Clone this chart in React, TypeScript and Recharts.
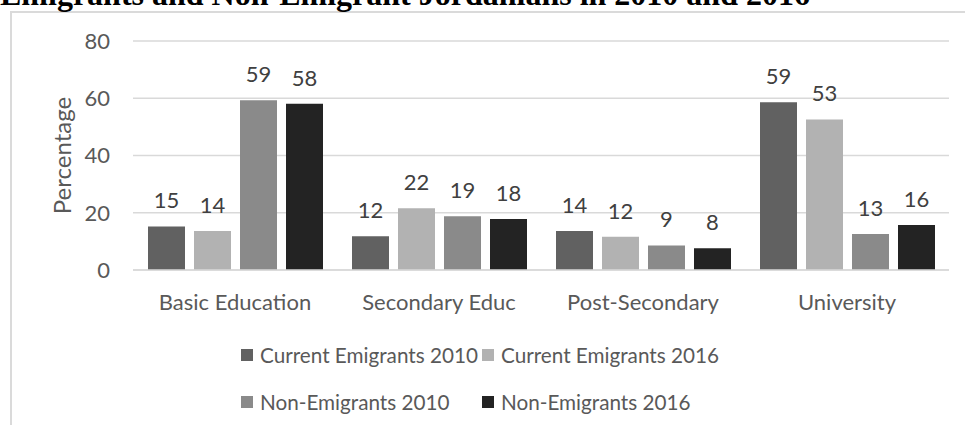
import React from "react";
import { BarChart, Bar, XAxis, YAxis, CartesianGrid, Legend, LabelList, Label } from "recharts";

const categories = ["Basic Education", "Secondary Educ", "Post-Secondary", "University"];
const currentEmigrants2010 = [15.2, 11.8, 13.6, 58.6];
const currentEmigrants2016 = [13.6, 21.6, 11.6, 52.6];
const nonEmigrants2010 = [59.3, 18.8, 8.6, 12.6];
const nonEmigrants2016 = [58.1, 17.8, 7.6, 15.7];
const yTicks = [0, 20, 40, 60, 80];

const seriesNames = ["Current Emigrants 2010", "Current Emigrants 2016", "Non-Emigrants 2010", "Non-Emigrants 2016"];
const seriesKeys = ["ce2010", "ce2016", "ne2010", "ne2016"];
const seriesColors = ["#616161", "#b2b2b2", "#8a8a8a", "#232323"];

const data = categories.map((c, i) => ({
  name: c,
  ce2010: currentEmigrants2010[i],
  ce2016: currentEmigrants2016[i],
  ne2010: nonEmigrants2010[i],
  ne2016: nonEmigrants2016[i],
}));

const FONT = "Lato, sans-serif";
const FS = 22;
const TEXT = "#595959";

const LegendContent = () => {
  const rows = [
    [0, 1],
    [2, 3],
  ];
  return (
    <div style={{ fontFamily: FONT, fontSize: 20.7, color: TEXT }}>
      {rows.map((r, ri) => (
        <div key={ri} style={{ display: "flex", height: 47, alignItems: "center" }}>
          {r.map((si) => (
            <div key={si} style={{ display: "flex", alignItems: "center", width: 241, flexShrink: 0 }}>
              <span style={{ display: "inline-block", flexShrink: 0, width: 12, height: 12, background: seriesColors[si], marginRight: 7 }} />
              <span style={{ whiteSpace: "nowrap" }}>{seriesNames[si]}</span>
            </div>
          ))}
        </div>
      ))}
    </div>
  );
};

export default function App() {
  return (
    <div style={{ position: "absolute", left: 0, top: 0, width: 965, height: 425, overflow: "hidden", background: "#fff" }}>
      <div style={{ position: "absolute", left: 10, top: 11, width: 980, height: 430, borderTop: "2px solid #dadada", borderLeft: "2px solid #dadada", boxSizing: "border-box" }} />
      <svg style={{ position: "absolute", left: 0, top: 0 }} width={965} height={30}>
        <text x={0} y={5} fontFamily="'Liberation Serif', serif" fontWeight="bold" fontSize={32} fill="#000">
          Emigrants and Non-Emigrant Jordanians in 2010 and 2016
        </text>
      </svg>
      <div style={{ position: "absolute", left: 0, top: 0 }}>
        <BarChart
          width={965}
          height={425}
          data={data}
          margin={{ top: 41, right: 16, left: 0, bottom: 125 }}
          barSize={37}
          barGap={9}
        >
          <CartesianGrid vertical={false} stroke="#d9d9d9" strokeWidth={1.5} />
          <XAxis
            dataKey="name"
            height={30}
            axisLine={{ stroke: "#d9d9d9", strokeWidth: 1.5 }}
            tickLine={false}
            tickSize={0}
            tickMargin={24}
            tick={{ fontFamily: FONT, fontSize: FS, fill: TEXT }}
          />
          <YAxis
            width={133}
            domain={[0, 80]}
            ticks={yTicks}
            axisLine={false}
            tickLine={false}
            tickSize={0}
            tickMargin={23}
            tick={{ fontFamily: FONT, fontSize: FS, fill: TEXT }}
          >
            <Label
              value="Percentage"
              angle={-90}
              position="insideLeft"
              offset={0}
              style={{ fontFamily: FONT, fontSize: 24, fill: TEXT, textAnchor: "middle" }}
              dx={62}
            />
          </YAxis>
          <Legend
            layout="horizontal"
            verticalAlign="middle"
            align="center"
            content={<LegendContent />}
            wrapperStyle={{ position: "absolute", left: 241, top: 331, width: 600 }}
          />
          {seriesKeys.map((k, i) => (
            <Bar key={k} dataKey={k} name={seriesNames[i]} fill={seriesColors[i]} isAnimationActive={false}>
              <LabelList
                dataKey={k}
                position="top"
                offset={18}
                formatter={(v: any) => Math.round(Number(v))}
                style={{ fontFamily: FONT, fontSize: FS, fill: "#404040" }}
              />
            </Bar>
          ))}
        </BarChart>
      </div>
    </div>
  );
}
